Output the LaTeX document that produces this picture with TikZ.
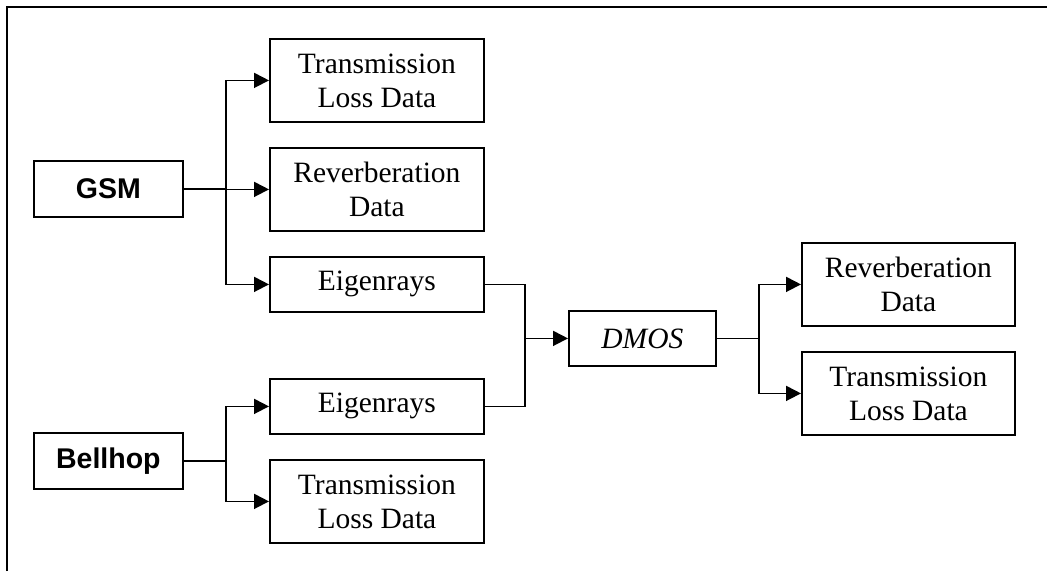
\documentclass[tikz,border=0pt]{standalone}
\usepackage{fontspec}
\setmainfont{Liberation Serif}
\newfontfamily\arialfont{Liberation Sans}
\usetikzlibrary{arrows.meta}
\begin{document}
\begin{tikzpicture}[x=1pt,y=-1pt,
  line width=1.8pt,
  box/.style={draw, line width=1.8pt, anchor=north west, inner sep=0pt, align=center,
    font=\fontsize{29.5}{34}\selectfont},
  wide/.style={box, minimum width=214pt, minimum height=83pt},
  slim/.style={box, minimum width=214pt, minimum height=55pt},
  src/.style={box, minimum width=149pt, minimum height=56pt, font=\arialfont\bfseries\fontsize{28.5}{34}\selectfont},
  arr/.style={-{Triangle[length=15pt,width=15pt]}},
  conn/.style={line width=1.8pt}]
\useasboundingbox (0,0) rectangle (1047,571);
% frame (top and left edges visible)
\draw[line width=2.2pt] (7,571) -- (7,7) -- (1047,7);

\node[src] (gsm) at (33,160) {GSM};
\node[src] (bell) at (33,432) {Bellhop};

\node[wide] (tl1) at (269,38) {Transmission\\Loss Data};
\node[wide] (rev1) at (269,147) {Reverberation\\Data};
\node[slim] (eig1) at (269,256) {Eigenrays};
\node[slim] (eig2) at (269,378) {Eigenrays};
\node[wide] (tl2) at (269,459) {Transmission\\Loss Data};

\node[box, minimum width=147pt, minimum height=55pt] (dmos) at (568,310) {\textit{DMOS}};

\node[wide, minimum width=213pt] (rev3) at (801,242) {Reverberation\\Data};
\node[wide, minimum width=213pt] (tl3) at (801,351) {Transmission\\Loss Data};

\path (226,0) coordinate (xa) (525,0) coordinate (xb) (759,0) coordinate (xc);
\coordinate (j1) at (gsm.east -| xa);
\coordinate (j2) at (bell.east -| xa);
\coordinate (j3) at (dmos.west -| xb);
\coordinate (j4) at (dmos.east -| xc);

\draw[conn] (gsm.east) -- (j1);
\draw[conn,arr] (j1) |- (tl1.west);
\draw[conn,arr] (j1) |- (rev1.west);
\draw[conn,arr] (j1) |- (eig1.west);

\draw[conn] (bell.east) -- (j2);
\draw[conn,arr] (j2) |- (eig2.west);
\draw[conn,arr] (j2) |- (tl2.west);

\draw[conn] (eig1.east) -| (j3);
\draw[conn] (eig2.east) -| (j3);
\draw[conn,arr] (j3) -- (dmos.west);

\draw[conn] (dmos.east) -- (j4);
\draw[conn,arr] (j4) |- (rev3.west);
\draw[conn,arr] (j4) |- (tl3.west);
\end{tikzpicture}
\end{document}
